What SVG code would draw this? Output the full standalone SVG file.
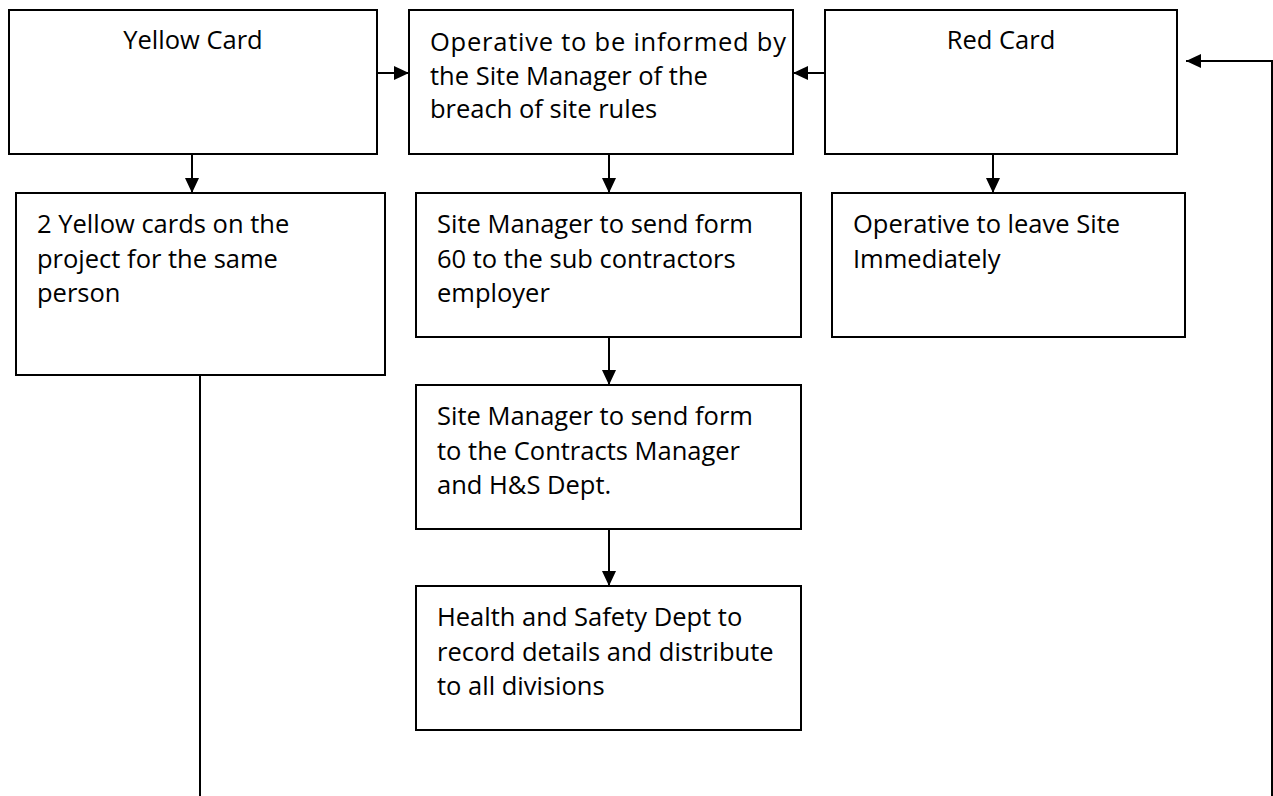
<svg xmlns="http://www.w3.org/2000/svg" width="1273" height="796" viewBox="0 0 1273 796">
  <style>
    .box { fill: #ffffff; stroke: #000000; stroke-width: 2; }
    .t { font-family: "Open Sans", "Liberation Sans", sans-serif; font-size: 25.5px; fill: #000000; }
    .c { text-anchor: middle; }
    .ln { fill: none; stroke: #000000; stroke-width: 2; }
  </style>
  <defs>
    <marker id="ah" markerUnits="userSpaceOnUse" markerWidth="15" markerHeight="14" refX="15" refY="7" orient="auto">
      <path d="M0,0 L15,7 L0,14 Z" fill="#000000"/>
    </marker>
  </defs>
  <rect x="0" y="0" width="1273" height="796" fill="#ffffff"/>

  <g id="connectors">
    <line class="ln" x1="377" y1="73" x2="409" y2="73" marker-end="url(#ah)"/>
    <line class="ln" x1="825" y1="73" x2="793" y2="73" marker-end="url(#ah)"/>
    <line class="ln" x1="192" y1="154" x2="192" y2="193" marker-end="url(#ah)"/>
    <line class="ln" x1="609" y1="154" x2="609" y2="193" marker-end="url(#ah)"/>
    <line class="ln" x1="993" y1="154" x2="993" y2="193" marker-end="url(#ah)"/>
    <line class="ln" x1="609" y1="337" x2="609" y2="385" marker-end="url(#ah)"/>
    <line class="ln" x1="609" y1="529" x2="609" y2="586" marker-end="url(#ah)"/>
    <line class="ln" x1="200" y1="375" x2="200" y2="796"/>
    <polyline class="ln" points="1272,796 1272,61 1186,61" marker-end="url(#ah)"/>
  </g>

  <g id="yellow-card">
    <rect class="box" x="9" y="10" width="368" height="144"/>
    <text class="t c" x="193" y="49">Yellow Card</text>
  </g>

  <g id="operative-informed">
    <rect class="box" x="409" y="10" width="384" height="144"/>
    <text class="t" x="430" y="50.7" textLength="356" lengthAdjust="spacing">Operative to be informed by</text>
    <text class="t" x="430" y="84.5">the Site Manager of the</text>
    <text class="t" x="430" y="118.3">breach of site rules</text>
  </g>

  <g id="red-card">
    <rect class="box" x="825" y="10" width="352" height="144"/>
    <text class="t c" x="1001" y="49">Red Card</text>
  </g>

  <g id="two-yellow">
    <rect class="box" x="16" y="193" width="369" height="182"/>
    <text class="t" x="37" y="233">2 Yellow cards on the</text>
    <text class="t" x="37" y="267.5">project for the same</text>
    <text class="t" x="37" y="302">person</text>
  </g>

  <g id="send-form-60">
    <rect class="box" x="416" y="193" width="385" height="144"/>
    <text class="t" x="437" y="233">Site Manager to send form</text>
    <text class="t" x="437" y="267.5">60 to the sub contractors</text>
    <text class="t" x="437" y="302">employer</text>
  </g>

  <g id="leave-site">
    <rect class="box" x="832" y="193" width="353" height="144"/>
    <text class="t" x="853" y="233">Operative to leave Site</text>
    <text class="t" x="853" y="267.5">Immediately</text>
  </g>

  <g id="send-form-cm">
    <rect class="box" x="416" y="385" width="385" height="144"/>
    <text class="t" x="437" y="425">Site Manager to send form</text>
    <text class="t" x="437" y="459.5">to the Contracts Manager</text>
    <text class="t" x="437" y="494">and H&amp;S Dept.</text>
  </g>

  <g id="hs-record">
    <rect class="box" x="416" y="586" width="385" height="144"/>
    <text class="t" x="437" y="626">Health and Safety Dept to</text>
    <text class="t" x="437" y="660.5">record details and distribute</text>
    <text class="t" x="437" y="695">to all divisions</text>
  </g>
</svg>
